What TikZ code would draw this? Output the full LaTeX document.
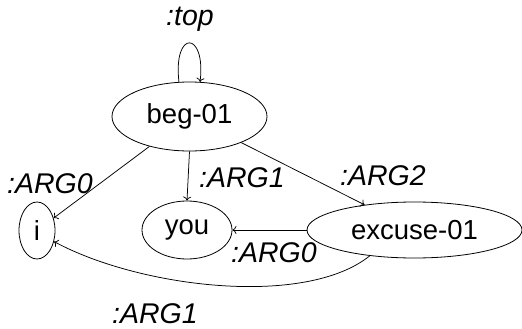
\documentclass[tikz,border=0pt]{standalone}
\usepackage{fontspec}
\setmainfont{Liberation Sans}
\usetikzlibrary{arrows.meta,shapes.geometric}
\begin{document}
\begin{tikzpicture}[x=1pt,y=-1pt,
  every node/.style={font=\fontsize{27.5}{31}\selectfont},
  concept/.style={draw,ellipse,inner sep=0pt,line width=0.8pt},
  rel/.style={font=\fontsize{28.5}{32}\selectfont\itshape,inner sep=0pt,anchor=base},
  arr/.style={draw,line width=0.75pt,-{To[length=4pt,width=8pt]}}]
\useasboundingbox (0,0) rectangle (522,329);
\node[concept,minimum width=155pt,minimum height=69pt] (beg) at (189.5,116.5) {beg-01};
\node[concept,minimum width=36pt,minimum height=57pt] (i) at (37,230.5) {i};
\node[concept,minimum width=90pt,minimum height=58pt] (you) at (187,230) {you};
\node[concept,minimum width=215pt,minimum height=56pt] (exc) at (414.5,230) {excuse-01};
\draw[arr] (beg.107) .. controls +(-6,-53) and +(6,-51) .. (beg.73);
\draw[arr] (beg) -- (i);
\draw[arr] (beg.-90) -- (you.90);
\draw[arr] (beg) -- (exc);
\draw[arr] (exc) -- (you);
\draw[arr] (exc.210) .. controls +(-65,52) and +(85,46) .. (i.-33);
\node[rel] (ltop) at (190,26) {:top};
\node[rel] (la0) at (50,193) {:ARG0};
\node[rel] (la1) at (242,187) {:ARG1};
\node[rel] (la2) at (383,185) {:ARG2};
\node[rel] (lb0) at (274,262) {:ARG0};
\node[rel] (lb1) at (155,323) {:ARG1};
\end{tikzpicture}
\end{document}
